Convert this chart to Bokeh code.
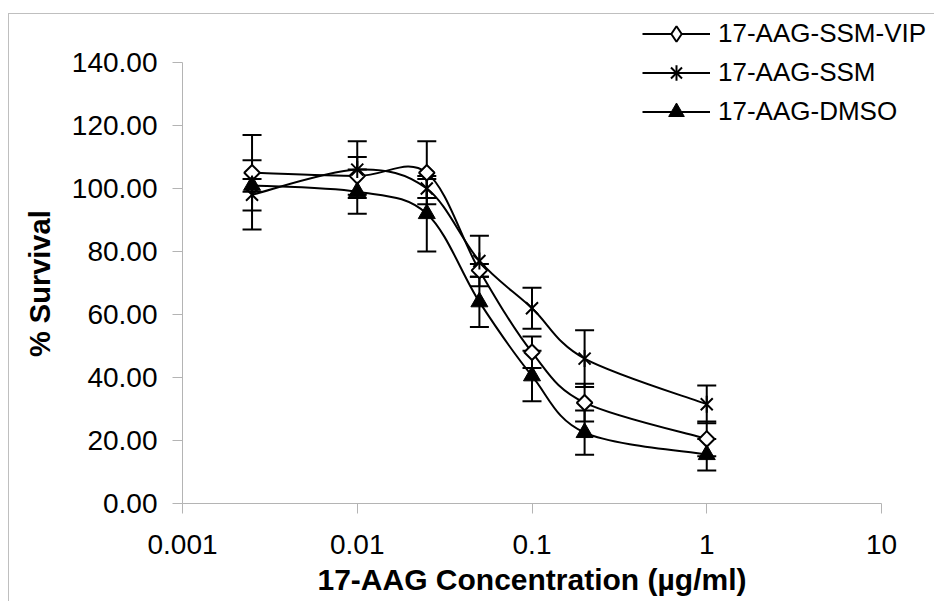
import math
from bokeh.plotting import figure
from bokeh.models import (ColumnDataSource, Whisker, TeeHead, Legend, LegendItem,
                          FixedTicker, NumeralTickFormatter, Range1d, Title)
from bokeh.embed import file_html
from bokeh.resources import INLINE

# ---------------- data ----------------
conc = [0.0025, 0.01, 0.025, 0.05, 0.1, 0.2, 1]

vip = [105, 104, 105, 74, 48, 32, 20.5]
vip_err = [12, 6, 10, 2, 5, 6, 5.5]

ssm = [98, 106, 100, 77, 62, 46, 31.5]
ssm_err = [11, 9, 3, 8, 6.5, 9, 6]

dmso = [101, 99, 92, 64, 40.5, 22.5, 15.5]
dmso_err = [2, 7, 12, 8, 8, 7, 5]

series_names = ["17-AAG-SSM-VIP", "17-AAG-SSM", "17-AAG-DMSO"]

x_tick_values = [0.001, 0.01, 0.1, 1, 10]
x_tick_labels = ["0.001", "0.01", "0.1", "1", "10"]
y_tick_values = [0, 20, 40, 60, 80, 100, 120, 140]

x_title = "17-AAG Concentration (µg/ml)"
y_title = "% Survival"

FONT = "Liberation Sans"
AXIS_GRAY = "#b4b4b4"

# ---------------- layout (pixels) ----------------
AXIS_W = 699          # pixel length of the 0.001..10 axis
AXIS_H = 441          # pixel length of the 0..140 axis
EXTRA_R = 48          # frame extends right of the axis end (room for legend)
EXTRA_T = 48          # frame extends above the axis top (room for legend)
X_TITLE_W = 429       # approx. rendered width of the x title (30px bold)
Y_TITLE_W = 148       # approx. rendered length of the y title (29px bold)
decades = math.log10(x_tick_values[-1] / x_tick_values[0])
x_end = x_tick_values[-1] * 10 ** (EXTRA_R * decades / AXIS_W)
y_end = y_tick_values[-1] + EXTRA_T * (y_tick_values[-1] - y_tick_values[0]) / AXIS_H

p = figure(x_axis_type="log",
           x_range=Range1d(x_tick_values[0], x_end),
           y_range=Range1d(y_tick_values[0], y_end),
           frame_width=AXIS_W + EXTRA_R, frame_height=AXIS_H + EXTRA_T,
           min_border_left=173, min_border_right=5, min_border_top=0, min_border_bottom=98,
           output_backend="svg", toolbar_location=None,
           background_fill_color="white", border_fill_color="white")
p.margin = (13, 0, 0, 8)
p.styles = {"border-top": "1px solid #bfbfbf", "border-left": "1px solid #bfbfbf"}
p.outline_line_color = None
p.xgrid.visible = False
p.ygrid.visible = False


def smooth_segments(xs, ys):
    """Catmull-Rom style Bezier segments (Excel 'smoothed line'), in log-x space."""
    lx = [math.log10(v) for v in xs]
    n = len(xs)
    d = dict(x0=[], y0=[], x1=[], y1=[], cx0=[], cy0=[], cx1=[], cy1=[])
    for i in range(n - 1):
        a = max(i - 1, 0)
        b = min(i + 2, n - 1)
        c0x = lx[i] + (lx[i + 1] - lx[a]) / 6.0
        c0y = ys[i] + (ys[i + 1] - ys[a]) / 6.0
        c1x = lx[i + 1] - (lx[b] - lx[i]) / 6.0
        c1y = ys[i + 1] - (ys[b] - ys[i]) / 6.0
        d["x0"].append(xs[i]); d["y0"].append(ys[i])
        d["x1"].append(xs[i + 1]); d["y1"].append(ys[i + 1])
        d["cx0"].append(10 ** c0x); d["cy0"].append(c0y)
        d["cx1"].append(10 ** c1x); d["cy1"].append(c1y)
    return ColumnDataSource(d)


all_series = [(vip, vip_err), (ssm, ssm_err), (dmso, dmso_err)]

# curves
for vals, _ in all_series:
    p.bezier(x0="x0", y0="y0", x1="x1", y1="y1", cx0="cx0", cy0="cy0",
             cx1="cx1", cy1="cy1", source=smooth_segments(conc, vals),
             line_color="black", line_width=2)

# error bars
for vals, err in all_series:
    src = ColumnDataSource(dict(x=conc,
                                upper=[v + e for v, e in zip(vals, err)],
                                lower=[v - e for v, e in zip(vals, err)]))
    w = Whisker(source=src, base="x", upper="upper", lower="lower",
                line_color="black", line_width=2, level="underlay",
                upper_head=TeeHead(size=19, line_color="black", line_width=2),
                lower_head=TeeHead(size=19, line_color="black", line_width=2))
    p.add_layout(w)

# markers
m_vip = p.scatter(conc, vip, marker="square", angle=math.pi / 4, size=11,
                  fill_color="white", line_color="black", line_width=2)
m_ssm_x = p.scatter(conc, ssm, marker="x", size=17, line_color="black", line_width=2)
m_ssm_v = p.scatter(conc, ssm, marker="dash", angle=math.pi / 2, size=17,
                    line_color="black", line_width=2)
m_dmso = p.scatter(conc, dmso, marker="triangle", size=17, fill_color="black",
                   line_color="black", line_width=1)

# legend-only samples (a NaN point: nothing is drawn in the plot area)
nan = float("nan")
leg_lines = [p.line(x=[nan], y=[nan], line_color="black", line_width=2) for _ in range(3)]
leg_diamond = p.scatter(x=[nan], y=[nan], marker="diamond", fill_color="white",
                        line_color="black", line_width=2)
leg_cross = p.scatter(x=[nan], y=[nan], marker="cross", line_color="black", line_width=2)

legend = Legend(items=[LegendItem(label=series_names[0], renderers=[leg_lines[0], leg_diamond]),
                       LegendItem(label=series_names[1], renderers=[leg_lines[1], m_ssm_x, leg_cross]),
                       LegendItem(label=series_names[2], renderers=[leg_lines[2], m_dmso])],
                location=(460, 372), orientation="vertical",
                glyph_width=68, glyph_height=39, label_height=39, spacing=0,
                label_standoff=8, padding=0, margin=0,
                border_line_color=None, background_fill_alpha=0,
                label_text_font=FONT, label_text_font_size="26px",
                label_text_color="black")
p.add_layout(legend)

# axes
xa = p.xaxis[0]
xa.ticker = FixedTicker(ticks=x_tick_values, minor_ticks=[])
xa.major_label_overrides = {v: s for v, s in zip(x_tick_values, x_tick_labels)}
xa.bounds = (x_tick_values[0], x_tick_values[-1])

ya = p.yaxis[0]
ya.ticker = FixedTicker(ticks=y_tick_values, minor_ticks=[])
ya.formatter = NumeralTickFormatter(format="0.00")
ya.bounds = (y_tick_values[0], y_tick_values[-1])

for ax in (xa, ya):
    ax.axis_line_color = AXIS_GRAY
    ax.axis_line_width = 1
    ax.major_tick_line_color = AXIS_GRAY
    ax.major_tick_out = 10
    ax.major_tick_in = 0
    ax.minor_tick_line_color = None
    ax.major_label_text_font = FONT
    ax.major_label_text_font_size = "28px"
    ax.major_label_text_color = "black"

xa.major_label_standoff = 21
ya.major_label_standoff = 15

# axis titles as Titles so they can be centred on the axes (not on the wider frame)
xt = Title(text=x_title, align="left", offset=(AXIS_W - X_TITLE_W) / 2, standoff=9,
           text_font=FONT, text_font_size="30px", text_font_style="bold",
           text_color="black")
p.add_layout(xt, "below")
yt = Title(text=y_title, align="left", offset=(AXIS_H - Y_TITLE_W) / 2, standoff=25,
           text_font=FONT, text_font_size="29px", text_font_style="bold",
           text_color="black")
p.add_layout(yt, "left")

open("out.html", "w").write(file_html(p, INLINE))
